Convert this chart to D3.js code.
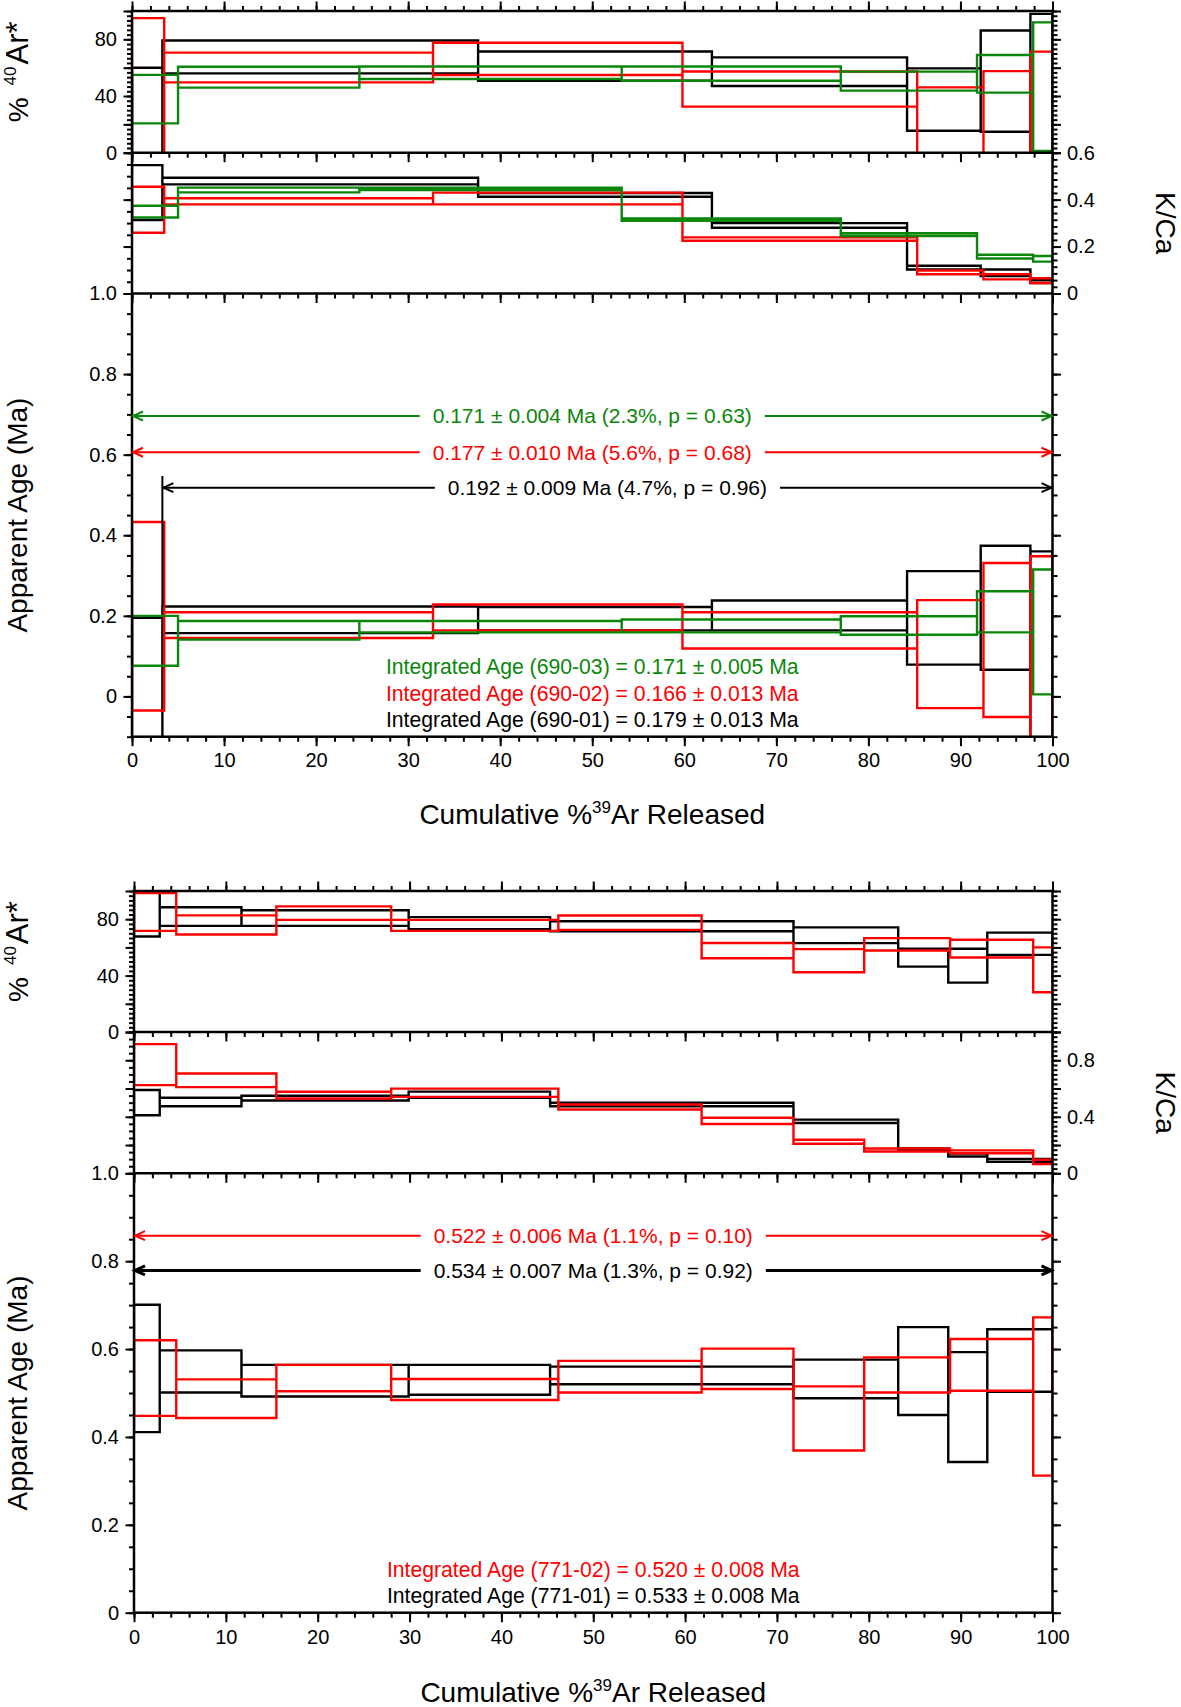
<!DOCTYPE html>
<html>
<head>
<meta charset="utf-8">
<script src="https://cdn.jsdelivr.net/npm/d3@7"></script>
<style>
  body { margin: 0; background: #fff; }
  svg { display: block; }
  text { font-family: "Liberation Sans", Arial, Helvetica, sans-serif; }
</style>
</head>
<body>
<svg id="chart" width="1181" height="1707"></svg>
<script>
// ===================== DATA =====================
// ---- Figure 1: samples 690-01 (black), 690-02 (red), 690-03 (green) ----
const edges690_01 = [0, 3.3, 37.6, 63.0, 84.2, 92.2, 97.6, 100];
const age690_01    = [0.000, 0.190, 0.193, 0.201, 0.195, 0.220, 0.120];
const ageErr690_01 = [0.195, 0.033, 0.029, 0.037, 0.116, 0.154, 0.240];
const rad690_01    = [25.0, 67.6, 61.1, 57.2, 37.5, 50.5, 45.0];
const radErr690_01 = [35.0, 11.6, 10.3, 10.1, 22.0, 35.7, 53.0];
const kca690_01    = [0.430, 0.479, 0.420, 0.290, 0.110, 0.088, 0.051];
const kcaErr690_01 = [0.117, 0.014, 0.008, 0.010, 0.008, 0.014, 0.006];

const edges690_02 = [0, 3.5, 32.7, 59.8, 85.3, 92.5, 97.6, 100];
const age690_02    = [0.199, 0.177, 0.196, 0.164, 0.105, 0.140, 0.110];
const ageErr690_02 = [0.234, 0.032, 0.032, 0.045, 0.134, 0.191, 0.238];
const rad690_02    = [45.0, 60.1, 66.2, 44.9, 20.0, 25.0, 33.0];
const radErr690_02 = [50.0, 10.5, 11.4, 12.4, 26.1, 32.6, 38.3];
const kca690_02    = [0.357, 0.393, 0.405, 0.232, 0.090, 0.071, 0.055];
const kcaErr690_02 = [0.098, 0.013, 0.025, 0.007, 0.008, 0.011, 0.010];

const edges690_03 = [0, 5.0, 24.7, 53.2, 77.0, 91.8, 97.9, 100];
const age690_03    = [0.138, 0.164, 0.173, 0.175, 0.176, 0.210, 0.160];
const ageErr690_03 = [0.062, 0.023, 0.014, 0.016, 0.023, 0.051, 0.155];
const rad690_03    = [37.8, 53.3, 56.4, 55.8, 50.5, 55.7, 46.6];
const radErr690_03 = [17.1, 7.4, 4.4, 5.0, 6.7, 13.3, 45.4];
const kca690_03    = [0.349, 0.441, 0.446, 0.315, 0.251, 0.157, 0.148];
const kcaErr690_03 = [0.025, 0.010, 0.005, 0.005, 0.006, 0.008, 0.012];

const plateauLabels690 = ["0.192 \u00b1 0.009 Ma (4.7%, p = 0.96)",
                          "0.177 \u00b1 0.010 Ma (5.6%, p = 0.68)",
                          "0.171 \u00b1 0.004 Ma (2.3%, p = 0.63)"];
const plateauFrom690  = [3.3, 0, 0];
const plateauTo690    = [100, 100, 100];
const plateauLevel690 = [0.518, 0.606, 0.696];
const integratedLabels690 = ["Integrated Age (690-03) = 0.171 \u00b1 0.005 Ma",
                             "Integrated Age (690-02) = 0.166 \u00b1 0.013 Ma",
                             "Integrated Age (690-01) = 0.179 \u00b1 0.013 Ma"];

// ---- Figure 2: samples 771-01 (black), 771-02 (red) ----
const edges771_01 = [0, 2.8, 11.7, 29.9, 45.3, 71.8, 83.2, 88.65, 92.9, 100];
const age771_01    = [0.556, 0.549, 0.528, 0.530, 0.540, 0.532, 0.550, 0.468, 0.574];
const ageErr771_01 = [0.145, 0.048, 0.036, 0.034, 0.020, 0.044, 0.100, 0.125, 0.071];
const rad771_01    = [83.4, 81.9, 80.8, 77.2, 75.0, 68.6, 52.7, 47.0, 62.6];
const radErr771_01 = [15.7, 6.6, 5.5, 4.3, 3.5, 5.6, 6.3, 12.0, 7.9];
const kca771_01    = [0.500, 0.505, 0.532, 0.556, 0.487, 0.368, 0.171, 0.129, 0.091];
const kcaErr771_01 = [0.089, 0.030, 0.017, 0.022, 0.012, 0.012, 0.005, 0.010, 0.010];

const edges771_02 = [0, 4.6, 15.5, 28.0, 46.2, 61.8, 71.8, 79.5, 88.85, 97.9, 100];
const age771_02    = [0.534, 0.487, 0.534, 0.508, 0.537, 0.555, 0.442, 0.541, 0.564, 0.492];
const ageErr771_02 = [0.086, 0.044, 0.030, 0.024, 0.036, 0.046, 0.073, 0.040, 0.059, 0.180];
const rad771_02    = [85.1, 75.9, 84.3, 75.6, 77.5, 57.7, 50.6, 62.2, 59.1, 44.1];
const radErr771_02 = [13.4, 6.8, 4.8, 3.9, 5.1, 5.4, 8.2, 4.4, 6.3, 15.9];
const kca771_02    = [0.769, 0.658, 0.553, 0.570, 0.469, 0.371, 0.223, 0.165, 0.152, 0.081];
const kcaErr771_02 = [0.145, 0.048, 0.024, 0.029, 0.018, 0.022, 0.014, 0.011, 0.010, 0.015];

const plateauLabels771 = ["0.534 \u00b1 0.007 Ma (1.3%, p = 0.92)",
                          "0.522 \u00b1 0.006 Ma (1.1%, p = 0.10)"];
const plateauFrom771  = [0, 0];
const plateauTo771    = [100, 100];
const plateauLevel771 = [0.779, 0.858];
const integratedLabels771 = ["Integrated Age (771-02) = 0.520 \u00b1 0.008 Ma",
                             "Integrated Age (771-01) = 0.533 \u00b1 0.008 Ma"];

// ===================== STYLE / LAYOUT =====================
const BLACK = "#000000", RED = "#ff0000", GREEN = "#0a870a";
const FONT = '"Liberation Sans", Arial, Helvetica, sans-serif';
const svg = d3.select("#chart");

const fig1 = {
  id: "f1", xL: 132, xR: 1052.5, aTop: 11, aBot: 152.7, bBot: 293.5, cBot: 736.7,
  kcaMax: 0.6, ageMin: -0.1, ageMax: 1.0,
  kcaLabels: [0, 0.2, 0.4, 0.6], kcaMajor: [0, 0.2, 0.4, 0.6],
  kcaMinorL: 0.05, kcaMinorR: 0.2 / 7,
  xLabelBase: 767, titleBase: 824,
  samples: [
    {color: BLACK, edges: edges690_01, age: age690_01, ageErr: ageErr690_01, rad: rad690_01, radErr: radErr690_01, kca: kca690_01, kcaErr: kcaErr690_01},
    {color: RED,   edges: edges690_02, age: age690_02, ageErr: ageErr690_02, rad: rad690_02, radErr: radErr690_02, kca: kca690_02, kcaErr: kcaErr690_02},
    {color: GREEN, edges: edges690_03, age: age690_03, ageErr: ageErr690_03, rad: rad690_03, radErr: radErr690_03, kca: kca690_03, kcaErr: kcaErr690_03}
  ],
  plateaus: plateauLabels690.map((t, i) => ({label: t, from: plateauFrom690[i], to: plateauTo690[i], level: plateauLevel690[i],
                                              color: [BLACK, RED, GREEN][i], width: 2, sample: i})),
  integrated: integratedLabels690.map((t, i) => ({label: t, color: [GREEN, RED, BLACK][i]}))
};

const fig2 = {
  id: "f2", xL: 134, xR: 1052.5, aTop: 891, aBot: 1032, bBot: 1173.3, cBot: 1612.7,
  kcaMax: 1.0, ageMin: 0, ageMax: 1.0,
  kcaLabels: [0, 0.4, 0.8], kcaMajor: [0, 0.2, 0.4, 0.6, 0.8, 1.0],
  kcaMinorL: 0.05, kcaMinorR: 1 / 30,
  xLabelBase: 1644, titleBase: 1702,
  samples: [
    {color: BLACK, edges: edges771_01, age: age771_01, ageErr: ageErr771_01, rad: rad771_01, radErr: radErr771_01, kca: kca771_01, kcaErr: kcaErr771_01},
    {color: RED,   edges: edges771_02, age: age771_02, ageErr: ageErr771_02, rad: rad771_02, radErr: radErr771_02, kca: kca771_02, kcaErr: kcaErr771_02}
  ],
  plateaus: plateauLabels771.map((t, i) => ({label: t, from: plateauFrom771[i], to: plateauTo771[i], level: plateauLevel771[i],
                                              color: [BLACK, RED][i], width: [3, 2][i], sample: i})),
  integrated: integratedLabels771.map((t, i) => ({label: t, color: [RED, BLACK][i]}))
};

function fmtNum(v) {
  if (Math.abs(v) < 1e-9) return "0";
  return d3.format(".1f")(v);
}
function rangeStep(a, b, s) {
  const n = Math.round((b - a) / s);
  return d3.range(n + 1).map(i => a + i * s);
}

function tickAxis(g, axisFn, scale, values, size, fmt, pad, tx, ty) {
  const ax = axisFn(scale).tickValues(values).tickSize(size).tickSizeOuter(0).tickPadding(pad);
  ax.tickFormat(fmt || (() => ""));
  const sel = g.append("g").attr("transform", `translate(${tx},${ty})`).call(ax);
  sel.select(".domain").remove();
  sel.selectAll(".tick line").attr("stroke", "#000").attr("stroke-width", 2);
  sel.selectAll(".tick text").attr("font-family", FONT).attr("font-size", 20).attr("fill", "#000");
  return sel;
}

function drawFigure(F) {
  const g = svg.append("g");
  const x  = d3.scaleLinear().domain([0, 100]).range([F.xL, F.xR]);
  const yA = d3.scaleLinear().domain([0, 100]).range([F.aBot, F.aTop]);
  const yB = d3.scaleLinear().domain([0, F.kcaMax]).range([F.bBot, F.aBot]);
  const yC = d3.scaleLinear().domain([F.ageMin, F.ageMax]).range([F.cBot, F.bBot]);

  const panels = [
    {key: "rad", err: "radErr", y: yA, top: F.aTop, bot: F.aBot},
    {key: "kca", err: "kcaErr", y: yB, top: F.aBot, bot: F.bBot},
    {key: "age", err: "ageErr", y: yC, top: F.bBot, bot: F.cBot}
  ];

  // step-spectrum outline: top & bottom of every step, joined by verticals at each boundary
  function spectrumPath(steps, y) {
    const p = d3.path();
    steps.forEach(s => {
      p.moveTo(x(s.x0), y(s.hi)); p.lineTo(x(s.x1), y(s.hi));
      p.moveTo(x(s.x0), y(s.lo)); p.lineTo(x(s.x1), y(s.lo));
    });
    const n = steps.length;
    p.moveTo(x(steps[0].x0), y(steps[0].lo)); p.lineTo(x(steps[0].x0), y(steps[0].hi));
    for (let i = 0; i < n - 1; i++) {
      const a = steps[i], b = steps[i + 1];
      p.moveTo(x(a.x1), y(Math.min(a.lo, b.lo))); p.lineTo(x(a.x1), y(Math.max(a.hi, b.hi)));
    }
    p.moveTo(x(steps[n - 1].x1), y(steps[n - 1].lo)); p.lineTo(x(steps[n - 1].x1), y(steps[n - 1].hi));
    return p.toString();
  }

  const defs = svg.append("defs");
  panels.forEach((p, pi) => {
    defs.append("clipPath").attr("id", `${F.id}clip${pi}`)
      .append("rect").attr("x", F.xL).attr("y", p.top)
      .attr("width", F.xR - F.xL).attr("height", p.bot - p.top);
    const pg = g.append("g").attr("clip-path", `url(#${F.id}clip${pi})`);
    F.samples.forEach(s => {
      const steps = s[p.key].map((v, i) => ({x0: s.edges[i], x1: s.edges[i + 1], lo: v - s[p.err][i], hi: v + s[p.err][i]}));
      pg.append("path").attr("d", spectrumPath(steps, p.y))
        .attr("fill", "none").attr("stroke", s.color)
        .attr("stroke-width", 2.4).attr("stroke-linecap", "square");
    });
  });

  // ---- Axes / ticks ----
  const xMajor = rangeStep(0, 100, 10), xMinor = rangeStep(0, 100, 2);
  tickAxis(g, d3.axisTop, x, xMinor, 5, null, 0, 0, F.aTop);
  tickAxis(g, d3.axisTop, x, xMajor, 9.5, null, 0, 0, F.aTop);
  [F.aBot, F.bBot].forEach(yy => {
    tickAxis(g, d3.axisBottom, x, xMinor, 5, null, 0, 0, yy);
    tickAxis(g, d3.axisBottom, x, xMajor, 9.5, null, 0, 0, yy);
  });
  tickAxis(g, d3.axisBottom, x, xMinor, 5, null, 0, 0, F.cBot);
  tickAxis(g, d3.axisBottom, x, xMajor, 9.5, d3.format("d"), F.xLabelBase - F.cBot - 9.5 - 14.2, 0, F.cBot);

  // Panel A: %40Ar*
  const aMajor = rangeStep(0, 100, 20), aMinor = rangeStep(0, 100, 10 / 3);
  tickAxis(g, d3.axisLeft, yA, aMinor, 5, null, 0, F.xL, 0);
  tickAxis(g, d3.axisLeft, yA, aMajor, 8.5, v => (v % 40 === 0 ? String(v) : ""), 6.5, F.xL, 0);
  tickAxis(g, d3.axisRight, yA, aMinor, 5, null, 0, F.xR, 0);
  tickAxis(g, d3.axisRight, yA, aMajor, 8.5, null, 0, F.xR, 0);

  // Panel B: K/Ca
  tickAxis(g, d3.axisLeft, yB, rangeStep(0, F.kcaMax, F.kcaMinorL), 5, null, 0, F.xL, 0);
  tickAxis(g, d3.axisLeft, yB, F.kcaMajor, 8.5, null, 0, F.xL, 0);
  tickAxis(g, d3.axisRight, yB, rangeStep(0, F.kcaMax, F.kcaMinorR), 5, null, 0, F.xR, 0);
  tickAxis(g, d3.axisRight, yB, F.kcaMajor, 8.5,
           v => (F.kcaLabels.some(l => Math.abs(l - v) < 1e-9) ? fmtNum(v) : ""), 6, F.xR, 0);

  // Panel C: Age
  const cMinor = rangeStep(F.ageMin, F.ageMax, 0.05), cMajor = rangeStep(0, F.ageMax, 0.2);
  tickAxis(g, d3.axisLeft, yC, cMinor, 5, null, 0, F.xL, 0);
  tickAxis(g, d3.axisLeft, yC, cMajor, 8.5, fmtNum, 6.5, F.xL, 0);
  tickAxis(g, d3.axisRight, yC, cMinor, 5, null, 0, F.xR, 0);
  tickAxis(g, d3.axisRight, yC, cMajor, 8.5, null, 0, F.xR, 0);

  // ---- Frame ----
  const fr = g.append("g").attr("stroke", "#000").attr("stroke-width", 2.5).attr("fill", "none");
  fr.append("rect").attr("x", F.xL).attr("y", F.aTop).attr("width", F.xR - F.xL).attr("height", F.cBot - F.aTop);
  [F.aBot, F.bBot].forEach(yy => fr.append("line").attr("x1", F.xL).attr("x2", F.xR).attr("y1", yy).attr("y2", yy));

  // ---- Plateau arrows ----
  F.plateaus.forEach(p => {
    const yy = yC(p.level);
    const xa = x(p.from), xb = x(p.to), xm = x((p.from + p.to) / 2);
    const t = g.append("text").attr("x", xm).attr("y", yy + 7.5)
      .attr("text-anchor", "middle").attr("font-size", 21).attr("fill", p.color).text(p.label);
    const w = t.node().getComputedTextLength();
    const gap = 13;
    const ag = g.append("g").attr("stroke", p.color).attr("stroke-width", p.width).attr("fill", "none");
    ag.append("line").attr("x1", xa).attr("x2", xm - w / 2 - gap).attr("y1", yy).attr("y2", yy);
    ag.append("line").attr("x1", xm + w / 2 + gap).attr("x2", xb).attr("y1", yy).attr("y2", yy);
    ag.append("path").attr("d", `M${xa + 11},${yy - 4.5}L${xa + 1},${yy}L${xa + 11},${yy + 4.5}`);
    ag.append("path").attr("d", `M${xb - 11},${yy - 4.5}L${xb - 1},${yy}L${xb - 11},${yy + 4.5}`);
    if (p.from > 0) {
      const s = F.samples[p.sample];
      const k = s.edges.findIndex(e => Math.abs(e - p.from) < 1e-9);
      const stepTop = s.age[k] + s.ageErr[k];
      ag.append("line").attr("x1", xa).attr("x2", xa)
        .attr("y1", yC(p.level + 0.029)).attr("y2", yC(stepTop));
    }
  });

  // ---- Integrated ages ----
  const nI = F.integrated.length;
  F.integrated.forEach((d, i) => {
    g.append("text").attr("x", x(50)).attr("y", F.cBot - 9.5 - (nI - 1 - i) * 26.5)
      .attr("text-anchor", "middle").attr("font-size", 21.2).attr("fill", d.color).text(d.label);
  });

  // ---- Axis titles ----
  const tA = g.append("text").attr("transform", `translate(28,${(F.aTop + F.aBot) / 2 - 10}) rotate(-90)`)
    .attr("text-anchor", "middle").attr("font-size", 28).attr("fill", "#000");
  tA.append("tspan").text("%");
  tA.append("tspan").attr("font-size", 17).attr("dx", 12).attr("dy", -12).text("40");
  tA.append("tspan").attr("font-size", 31).attr("dx", 2).attr("dy", 12).text("Ar*");

  g.append("text").attr("transform", `translate(27,${(F.bBot + F.cBot) / 2}) rotate(-90)`)
    .attr("text-anchor", "middle").attr("font-size", 28).attr("fill", "#000").text("Apparent Age (Ma)");

  g.append("text").attr("transform", `translate(1156,${(F.aBot + F.bBot) / 2}) rotate(90)`)
    .attr("text-anchor", "middle").attr("font-size", 28).attr("fill", "#000").text("K/Ca");

  const tX = g.append("text").attr("x", x(50)).attr("y", F.titleBase)
    .attr("text-anchor", "middle").attr("font-size", 28).attr("fill", "#000");
  tX.append("tspan").text("Cumulative %");
  tX.append("tspan").attr("font-size", 17).attr("dy", -11).text("39");
  tX.append("tspan").attr("dy", 11).text("Ar Released");
}

drawFigure(fig1);
drawFigure(fig2);
</script>
</body>
</html>
